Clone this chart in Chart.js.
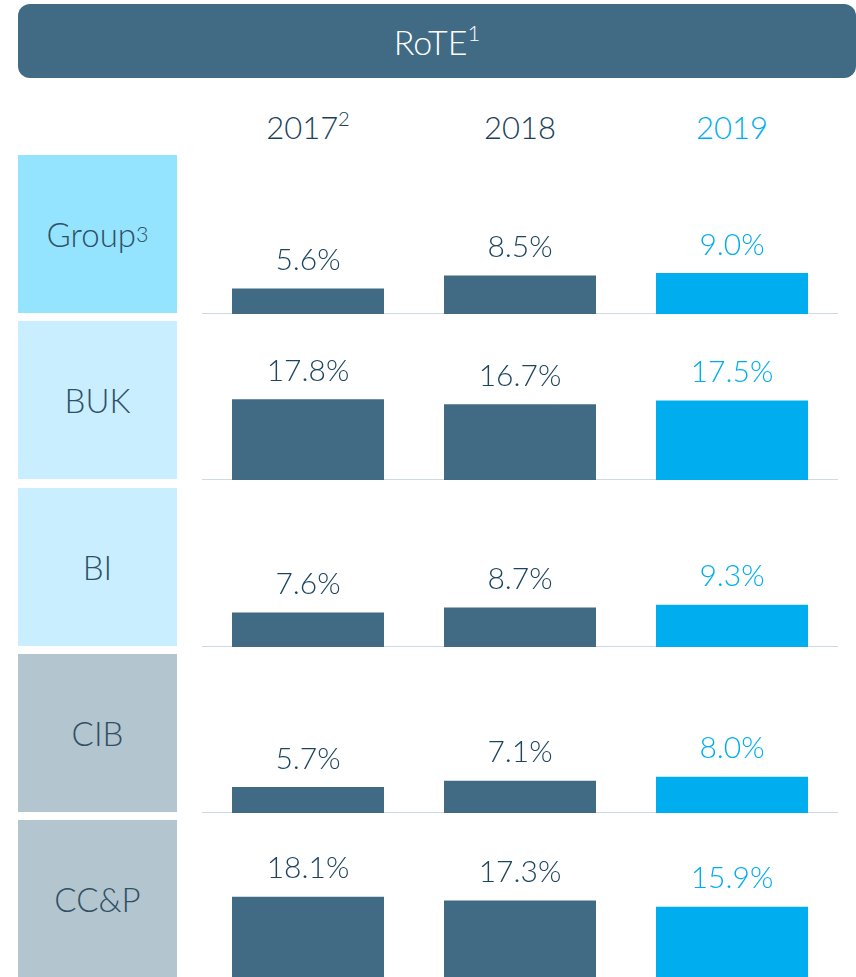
<!DOCTYPE html>
<html>
<head>
<meta charset="utf-8">
<script src="https://cdn.jsdelivr.net/npm/chart.js@4"></script>
<style>
  body { margin: 0; background: #fff; font-family: Lato, "Open Sans", sans-serif; font-weight: 300; }
  #page { position: relative; width: 856px; height: 977px; overflow: hidden; }
  .header { position: absolute; left: 18px; top: 4px; width: 838px; height: 74px; border-radius: 12px;
            background: #416b84; color: #fff; font-size: 34px; line-height: 76px; text-align: center; }
  sup { font-size: 0.65em; vertical-align: 0.65em; line-height: 0; }
  .year { position: absolute; top: 108px; width: 160px; margin-left: -80px; text-align: center;
          font-size: 31px; color: #1c3f5a; }
  .rowbox { position: absolute; left: 18px; width: 159px; display: flex; align-items: center;
            justify-content: center; font-size: 33px; color: #2f5064; }
  .chartbox { position: absolute; left: 202px; width: 636px; }
</style>
</head>
<body>
<div id="page">
  <div class="header">RoTE<sup>1</sup></div>
</div>
<script>
// chart data
const years = ['2017', '2018', '2019'];
const yearNotes = ['2', '', ''];
const segments = ['Group', 'BUK', 'BI', 'CIB', 'CC&P'];
const segmentNotes = ['3', '', '', '', ''];
const rote2017 = [5.6, 17.8, 7.6, 5.7, 18.1];
const rote2018 = [8.5, 16.7, 8.7, 7.1, 17.3];
const rote2019 = [9.0, 17.5, 9.3, 8.0, 15.9];

const darkBlue = '#416a84';
const cyan = '#00aeef';
const boxColors = ['#94e3ff', '#c9eeff', '#c9eeff', '#b3c5cf', '#b3c5cf'];
const rowTops = [155, 321, 488, 654, 820];
const rowHeight = 158;
const yMax = 35;

const page = document.getElementById('page');

// year headings
const centers = [308, 520, 732];
years.forEach(function(y, i) {
    const d = document.createElement('div');
    d.className = 'year';
    d.style.left = centers[i] + 'px';
    d.style.color = i === 2 ? cyan : '#1c3f5a';
    d.innerHTML = y + (yearNotes[i] ? '<sup>' + yearNotes[i] + '</sup>' : '');
    page.appendChild(d);
});

// draws the value above each bar
const valueLabels = {
    id: 'valueLabels',
    afterDatasetsDraw: function(chart) {
        const ctx = chart.ctx;
        const meta = chart.getDatasetMeta(0);
        ctx.save();
        ctx.font = '300 30px Lato, "Open Sans", sans-serif';
        ctx.textAlign = 'center';
        ctx.textBaseline = 'middle';
        meta.data.forEach(function(bar, i) {
            const v = chart.data.datasets[0].data[i];
            ctx.fillStyle = i === 2 ? cyan : '#1d4560';
            ctx.fillText(v.toFixed(1) + '%', bar.x, bar.y - 28);
        });
        ctx.restore();
    }
};

segments.forEach(function(seg, r) {
    const box = document.createElement('div');
    box.className = 'rowbox';
    box.style.top = rowTops[r] + 'px';
    box.style.height = rowHeight + 'px';
    box.style.background = boxColors[r];
    box.innerHTML = seg.replace('&', '&amp;') + (segmentNotes[r] ? '<sup>' + segmentNotes[r] + '</sup>' : '');
    page.appendChild(box);

    const holder = document.createElement('div');
    holder.className = 'chartbox';
    holder.style.top = rowTops[r] + 'px';
    holder.style.height = (rowHeight + 1) + 'px';
    const canvas = document.createElement('canvas');
    holder.appendChild(canvas);
    page.appendChild(holder);

    new Chart(canvas.getContext('2d'), {
        type: 'bar',
        data: {
            labels: years,
            datasets: [{
                data: [rote2017[r], rote2018[r], rote2019[r]],
                backgroundColor: [darkBlue, darkBlue, cyan],
                borderWidth: 0,
                categoryPercentage: 1,
                barPercentage: 0.717
            }]
        },
        options: {
            responsive: true,
            maintainAspectRatio: false,
            animation: false,
            layout: { padding: 0 },
            plugins: { legend: { display: false }, tooltip: { enabled: false } },
            scales: {
                x: {
                    ticks: { display: false, padding: 0 },
                    grid: { display: false, drawTicks: false, tickLength: 0 },
                    border: { display: true, color: '#cfd9e0', width: 2 }
                },
                y: {
                    display: false,
                    min: 0,
                    max: yMax
                }
            }
        },
        plugins: [valueLabels]
    });
});
</script>
</body>
</html>
